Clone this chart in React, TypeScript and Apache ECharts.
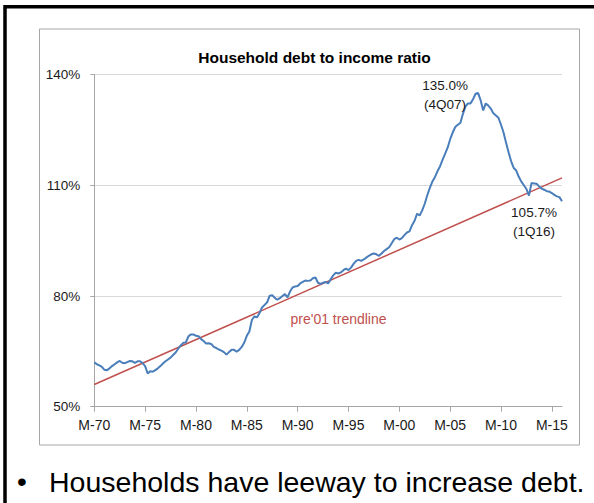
import React, { useEffect, useRef } from "react";
import * as echarts from "echarts";

// Quarterly categories 1Q70 .. 1Q16
const quarters: string[] = [];
for (let y = 1970; y <= 2016; y++) {
  for (let q = 1; q <= 4; q++) {
    if (y === 2016 && q > 1) break;
    quarters.push(q + "Q" + String(y).slice(2));
  }
}

// Household debt to income ratio (%), quarterly
const debtToIncome = [
  62.0, 61.5, 61.2, 60.8, 60.0, 59.9, 60.4, 61.0, 61.5, 62.0,
  62.4, 61.9, 61.8, 62.1, 62.4, 62.3, 61.9, 62.3, 62.3, 61.8,
  61.0, 59.0, 59.6, 59.5, 59.9, 60.4, 61.0, 61.7, 62.3, 62.8,
  63.3, 64.0, 64.7, 65.7, 66.6, 67.3, 67.4, 69.0, 69.6, 69.6,
  69.2, 69.1, 68.3, 67.8, 67.1, 67.2, 67.0, 66.2, 65.9, 65.5,
  65.2, 64.8, 64.1, 64.8, 65.4, 65.4, 64.9, 65.4, 66.2, 67.4,
  69.2, 70.4, 73.5, 74.5, 74.2, 75.4, 76.9, 77.6, 78.3, 80.1,
  80.2, 79.5, 79.0, 79.4, 80.0, 80.5, 79.6, 81.2, 82.3, 82.6,
  82.7, 83.4, 83.8, 84.2, 84.1, 84.2, 84.8, 85.0, 83.6, 83.3,
  83.6, 83.8, 83.4, 84.5, 85.6, 86.3, 86.1, 86.4, 87.0, 87.4,
  87.0, 87.7, 88.7, 89.5, 89.8, 89.5, 89.9, 90.4, 90.9, 91.3,
  91.5, 91.3, 90.9, 91.5, 92.2, 92.7, 93.2, 94.3, 95.4, 95.8,
  95.3, 95.7, 96.5, 97.2, 97.5, 99.2, 100.4, 102.3, 101.8, 103.2,
  105.0, 107.3, 109.3, 111.0, 112.2, 113.8, 115.1, 116.9, 118.5, 120.2,
  122.5, 124.3, 125.8, 126.4, 126.9, 129.3, 131.3, 132.2, 132.2, 133.3,
  134.8, 135.0, 133.0, 130.3, 132.2, 131.6, 130.8, 129.5, 128.9, 128.3,
  126.4, 124.3, 121.5, 118.9, 116.5, 114.7, 114.0, 112.3, 111.0, 110.0,
  109.0, 107.2, 110.6, 110.5, 110.4, 109.7, 109.1, 108.8, 108.4, 108.3,
  107.9, 107.4, 107.0, 106.8, 105.7,
];

// pre-'01 trendline: value at first and at last quarter
const trendEnds = [56.0, 112.0];

const xTickLabels = ["M-70", "M-75", "M-80", "M-85", "M-90", "M-95", "M-00", "M-05", "M-10", "M-15"];
const yTicks = [50, 80, 110, 140];

const peakLabel = ["135.0%", "(4Q07)"];
const lastLabel = ["105.7%", "(1Q16)"];

const FONT = "'Liberation Sans', Arial, sans-serif";

export default function App() {
  const ref = useRef<HTMLDivElement>(null);
  useEffect(() => {
    if (!ref.current) return;
    const chart = echarts.init(ref.current, undefined, { renderer: "svg" });
    const peakIdx = debtToIncome.indexOf(Math.max(...debtToIncome));
    const lastIdx = debtToIncome.length - 1;
    chart.setOption({
      animation: false,
      backgroundColor: "#ffffff",
      textStyle: { fontFamily: FONT },
      title: {
        text: "Household debt to income ratio",
        left: 309.5,
        top: 44,
        textAlign: "center",
        textStyle: { fontFamily: FONT, fontSize: 15.5, fontWeight: "bold", color: "#000" },
      },
      grid: { left: 94.3, top: 74.6, width: 467.7, height: 332.1, containLabel: false },
      xAxis: {
        type: "category",
        data: quarters,
        boundaryGap: false,
        axisLine: { lineStyle: { color: "#a6a6a6", width: 1 } },
        axisTick: { show: true, interval: 19, length: 5, lineStyle: { color: "#a6a6a6" } },
        axisLabel: {
          interval: 19,
          margin: 11,
          fontSize: 14,
          color: "#1a1a1a",
          fontFamily: FONT,
          formatter: (_v: string, i: number) => xTickLabels[Math.round(i / 20)] ?? "",
        },
        splitLine: { show: false },
      },
      yAxis: {
        type: "value",
        min: yTicks[0],
        max: yTicks[yTicks.length - 1],
        interval: yTicks[1] - yTicks[0],
        axisLine: { show: true, lineStyle: { color: "#a6a6a6", width: 1 } },
        axisTick: { show: true, length: 4, lineStyle: { color: "#a6a6a6" } },
        axisLabel: { margin: 14, fontSize: 13.5, color: "#1a1a1a", fontFamily: FONT, formatter: "{value}%" },
        splitLine: { show: true, lineStyle: { color: "#d9d9d9", width: 1 } },
      },
      series: [
        {
          name: "Household debt to income ratio",
          type: "line",
          data: debtToIncome,
          symbol: "none",
          lineStyle: { color: "#4a7ebb", width: 2 },
          z: 3,
          markPoint: {
            symbol: "circle",
            symbolSize: 0,
            data: [
              {
                coord: [quarters[peakIdx], debtToIncome[peakIdx]],
                label: {
                  show: true,
                  formatter: peakLabel.join("\n"),
                  position: "inside",
                  offset: [-33, 2],
                  fontSize: 13.5,
                  lineHeight: 19,
                  color: "#1a1a1a",
                  fontFamily: FONT,
                  align: "center",
                },
              },
              {
                coord: [quarters[lastIdx], debtToIncome[lastIdx]],
                label: {
                  show: true,
                  formatter: lastLabel.join("\n"),
                  position: "inside",
                  offset: [-28, 21],
                  fontSize: 13.5,
                  lineHeight: 19,
                  color: "#1a1a1a",
                  fontFamily: FONT,
                  align: "center",
                },
              },
            ],
          },
        },
        {
          name: "pre'01 trendline",
          type: "line",
          data: [
            [quarters[0], trendEnds[0]],
            [quarters[lastIdx], trendEnds[1]],
          ],
          symbol: "none",
          lineStyle: { color: "#c0504d", width: 1.5 },
          z: 2,
        },
      ],
      graphic: [
        {
          type: "rect",
          shape: { x: 5, y: 6.7, width: 620, height: 530 },
          style: { fill: "none", stroke: "#000", lineWidth: 3.5 },
          silent: true,
        },
        {
          type: "rect",
          shape: { x: 39.5, y: 29, width: 540, height: 416 },
          style: { fill: "none", stroke: "#a6a6a6", lineWidth: 1 },
          silent: true,
        },
        {
          type: "text",
          x: 338.5,
          y: 319,
          style: {
            text: "pre'01 trendline",
            fill: "#c0504d",
            font: `14px ${FONT}`,
            align: "center",
            verticalAlign: "middle",
          },
        },
        {
          type: "text",
          x: 22,
          y: 481,
          style: { text: "•", fill: "#000", font: `28px ${FONT}`, align: "center", verticalAlign: "middle" },
        },
        {
          type: "text",
          x: 49,
          y: 482,
          style: {
            text: "Households have leeway to increase debt.",
            fill: "#000",
            font: `28.5px ${FONT}`,
            align: "left",
            verticalAlign: "middle",
          },
        },
      ],
    });
    return () => chart.dispose();
  }, []);
  return <div ref={ref} style={{ position: "absolute", left: 0, top: 0, width: 594, height: 503 }} />;
}
